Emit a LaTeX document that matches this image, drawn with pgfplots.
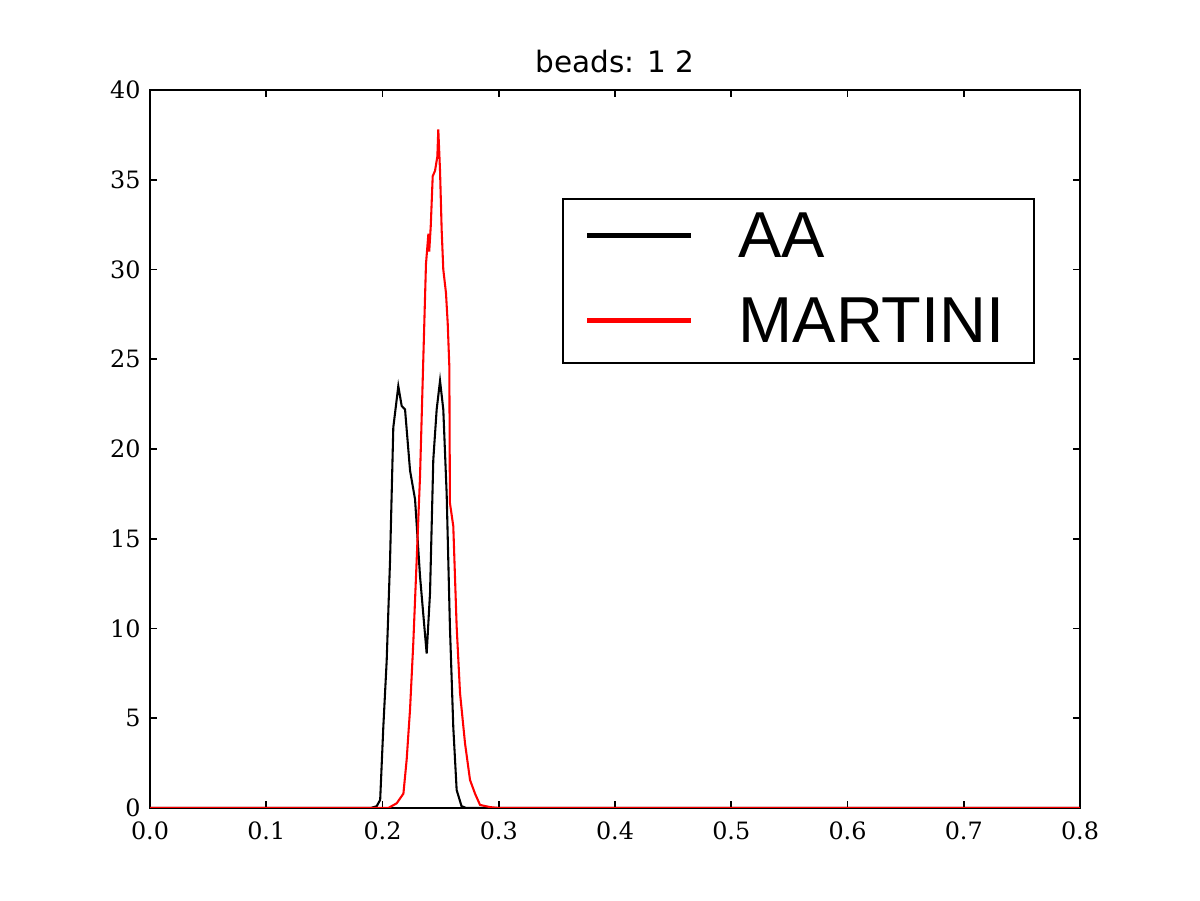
\documentclass[border=0pt]{standalone}
\usepackage{pgfplots}
\pgfplotsset{compat=1.18}
\usepackage{fontspec}
\setmainfont{DejaVu Serif}
\newfontfamily\titlefont{DejaVu Sans}
\newfontfamily\legendfont{Liberation Sans}

% bond-length distributions for the bead pair 1-2
\pgfplotstableread{
x y
0 0
0.19 0
0.195 0.1
0.198 0.45
0.2007 4.5
0.2036 8.2
0.2065 13.8
0.2093 21.2
0.2136 23.5
0.2165 22.4
0.2194 22.2
0.2237 18.8
0.228 17.2
0.2323 12.9
0.238 8.6
0.2409 12.0
0.2437 19.4
0.2466 22.2
0.2495 23.8
0.2523 22.2
0.2552 17.5
0.258 10.1
0.2609 4.5
0.2638 1.0
0.268 0.1
0.272 0
0.8 0
}\aadata

\pgfplotstableread{
x y
0 0
0.205 0
0.2122 0.26
0.218 0.8
0.2208 2.7
0.2237 5.5
0.2265 9.2
0.2294 13.8
0.2323 18.5
0.2351 25.0
0.2374 30.3
0.2395 32.0
0.2402 31.0
0.2415 32.4
0.2432 35.2
0.2452 35.5
0.2472 36.3
0.248 37.8
0.2495 35.5
0.2509 32.2
0.2523 30.0
0.2546 28.7
0.2561 27.0
0.2575 24.6
0.258 17.0
0.2609 15.7
0.2638 10.1
0.2667 6.4
0.271 3.6
0.2753 1.56
0.2796 0.8
0.2839 0.17
0.2925 0.05
0.30 0
0.8 0
}\martinidata

\begin{document}
\begin{tikzpicture}
\path[use as bounding box] (-72.27pt,-44.33pt) rectangle (505.89pt,389.29pt);
\begin{axis}[
  at={(0,0)}, anchor=south west,
  scale only axis, width=448.07pt, height=345.93pt,
  xmin=0, xmax=0.8, ymin=0, ymax=40,
  xtick={0,0.1,0.2,0.3,0.4,0.5,0.6,0.7,0.8},
  ytick={0,5,10,15,20,25,30,35,40},
  tick align=inside, tick pos=both, major tick length=3.4pt,
  every tick/.style={black, line width=0.8pt},
  axis line style={black, line width=1pt},
  /pgf/number format/assume math mode=true,
  tick label style={font=\fontsize{11.5}{13}\selectfont},
  xticklabel style={/pgf/number format/fixed, /pgf/number format/fixed zerofill, /pgf/number format/precision=1, yshift=-3pt},
  yticklabel style={xshift=-1pt},
  scaled x ticks=false,
  title={beads: 1 2},
  title style={font=\titlefont\fontsize{14.2}{16}\selectfont, at={(axis description cs:0.5,1)}, anchor=base, yshift=2.2pt},
  legend image code/.code={
    \path[draw=none, fill=none] (0pt,-9.8pt) rectangle (50pt,28.2pt);
    \draw[#1, line width=2.5pt] (0pt,10.8pt) -- (50pt,10.8pt);
  },
  legend style={
    at={(axis description cs:0.443,0.8496)}, anchor=north west,
    draw=black, line width=1pt,
    font=\legendfont\fontsize{31.3}{36}\selectfont,
    inner xsep=10.5pt, inner ysep=0pt,
    row sep=3pt, column sep=21.6pt,
    nodes={inner sep=0pt},
    cells={anchor=base west},
  },
]
\addplot[black, line width=1pt] table[x=x, y=y] {\aadata};
\addplot[red, line width=1pt] table[x=x, y=y] {\martinidata};
\legend{AA, MARTINI\hspace*{3.5pt}}
\end{axis}
\end{tikzpicture}
\end{document}
